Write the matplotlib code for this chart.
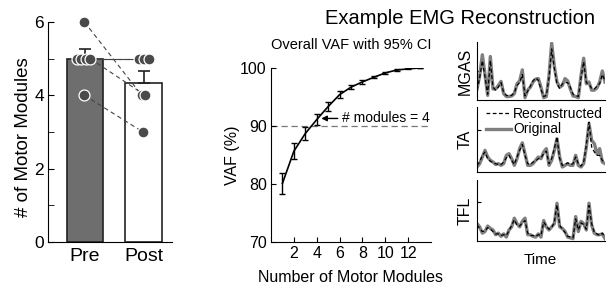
import matplotlib
matplotlib.use('Agg')
import matplotlib.pyplot as plt
import numpy as np

plt.rcParams['font.family'] = ['Liberation Sans', 'DejaVu Sans']

# ---- data
conditions = ['Pre', 'Post']
pre_modules = [6, 5, 5, 5, 5, 4]
post_modules = [4, 5, 5, 5, 4, 3]
pre_jitter = [-0.01, -0.13, -0.06, 0.02, 0.09, -0.01]
post_jitter = [-0.03, -0.07, 0.01, 0.09, 0.03, -0.01]

n_modules = np.arange(1, 14)
vaf_mean = [80.05, 85.6, 88.65, 91.05, 93.3, 95.35, 96.65, 97.55, 98.35, 99.1, 99.6, 99.8, 99.95]
vaf_ci = [1.85, 1.4, 1.15, 0.95, 0.8, 0.65, 0.35, 0.35, 0.2, 0.12, 0.1, 0.08, 0.05]
vaf_threshold = 90
chosen_n = 4

muscles = ['MGAS', 'TA', 'TFL']
mgas_orig = [0.19, 0.42, 0.78, 0.44, 0.08, 0.75, 0.19, 0.19, 0.25, 0.32, 0.11, 0.06, 0.06, 0.07, 0.11, 0.28, 0.33,
             0.52, 0.04, 0.17, 0.22, 0.31, 0.36, 0.37, 0.22, 0.04, 0.06, 0.42, 0.98, 0.58, 0.31, 0.22, 0.25, 0.37,
             0.33, 0.19, 0.07, 0.06, 0.04, 0.42, 0.72, 0.28, 0.31, 0.17, 0.17, 0.21, 0.31, 0.50, 0.31]
mgas_recon = [0.17, 0.38, 0.68, 0.40, 0.10, 0.68, 0.22, 0.17, 0.22, 0.30, 0.13, 0.08, 0.07, 0.08, 0.13, 0.25, 0.30,
              0.44, 0.07, 0.15, 0.24, 0.33, 0.38, 0.34, 0.18, 0.06, 0.08, 0.38, 0.88, 0.55, 0.28, 0.20, 0.28, 0.30,
              0.30, 0.22, 0.10, 0.08, 0.06, 0.38, 0.66, 0.30, 0.27, 0.20, 0.19, 0.24, 0.28, 0.44, 0.33]
ta_orig = [0.06, 0.10, 0.18, 0.26, 0.18, 0.14, 0.12, 0.09, 0.10, 0.08, 0.10, 0.20, 0.22, 0.16, 0.08, 0.16, 0.28,
           0.35, 0.22, 0.08, 0.08, 0.10, 0.14, 0.18, 0.16, 0.24, 0.28, 0.08, 0.14, 0.26, 0.40, 0.18, 0.06, 0.08,
           0.10, 0.08, 0.08, 0.20, 0.08, 0.06, 0.10, 0.30, 0.58, 0.38, 0.34, 0.22, 0.28, 0.12, 0.10]
ta_recon = [0.08, 0.12, 0.20, 0.24, 0.16, 0.13, 0.11, 0.10, 0.09, 0.09, 0.12, 0.17, 0.20, 0.14, 0.09, 0.18, 0.26,
            0.33, 0.20, 0.10, 0.09, 0.12, 0.13, 0.16, 0.17, 0.22, 0.25, 0.10, 0.16, 0.28, 0.42, 0.16, 0.08, 0.09,
            0.11, 0.09, 0.10, 0.18, 0.10, 0.07, 0.12, 0.32, 0.60, 0.30, 0.24, 0.20, 0.20, 0.14, 0.11]
tfl_orig = [0.22, 0.18, 0.10, 0.12, 0.19, 0.16, 0.14, 0.08, 0.10, 0.06, 0.09, 0.05, 0.14, 0.18, 0.29, 0.22, 0.18,
            0.25, 0.29, 0.08, 0.08, 0.06, 0.05, 0.09, 0.05, 0.26, 0.18, 0.14, 0.18, 0.22, 0.48, 0.18, 0.16, 0.12,
            0.05, 0.04, 0.03, 0.31, 0.12, 0.25, 0.22, 0.14, 0.48, 0.20, 0.10, 0.08, 0.08, 0.09, 0.03]
tfl_recon = [0.20, 0.16, 0.12, 0.13, 0.17, 0.15, 0.12, 0.09, 0.09, 0.07, 0.08, 0.07, 0.13, 0.20, 0.27, 0.20, 0.19,
             0.23, 0.26, 0.10, 0.07, 0.07, 0.06, 0.08, 0.07, 0.24, 0.19, 0.15, 0.17, 0.24, 0.46, 0.20, 0.15, 0.11,
             0.06, 0.05, 0.04, 0.28, 0.14, 0.23, 0.21, 0.15, 0.45, 0.22, 0.11, 0.09, 0.07, 0.10, 0.05]

W, H = 610, 284
fig = plt.figure(figsize=(W / 100, H / 100), dpi=100)


def px_axes(x0, y0, x1, y1):
    # axes from pixel box (top-left origin)
    return fig.add_axes([x0 / W, 1 - y1 / H, (x1 - x0) / W, (y1 - y0) / H])


# ---- left: bar chart of modules
ax1 = px_axes(48, 22, 172, 242)
pre = np.array(pre_modules)
post = np.array(post_modules)
means = [pre.mean(), post.mean()]
sems = [pre.std(ddof=1) / np.sqrt(len(pre)), post.std(ddof=1) / np.sqrt(len(post))]
xpos = [1, 2]
ax1.bar(xpos, means, width=0.62, color=['#6e6e6e', 'white'], edgecolor='#222222', linewidth=1.2, zorder=1)
for x, m, s in zip(xpos, means, sems):
    ax1.errorbar(x, m, yerr=[[0], [s]], color='#222222', capsize=4, elinewidth=1.2, capthick=1.2, zorder=2)
for a, b, ja, jb in zip(pre_modules, post_modules, pre_jitter, post_jitter):
    ax1.plot([1 + ja, 2 + jb], [a, b], ls=(0, (4, 3)), color='#444444', lw=0.8, zorder=3)
ax1.scatter(np.array(xpos[0]) + np.array(pre_jitter), pre_modules, s=62, color='#4a4a4a',
            edgecolor='white', linewidth=0.9, zorder=4, clip_on=False)
ax1.scatter(np.array(xpos[1]) + np.array(post_jitter), post_modules, s=62, color='#4a4a4a',
            edgecolor='white', linewidth=0.9, zorder=4, clip_on=False)
ax1.set_xlim(0.3675, 2.487)
ax1.set_ylim(0, 6)
ax1.set_yticks([0, 2, 4, 6])
ax1.set_yticks([1, 3, 5], minor=True)
ax1.set_xticks(xpos)
ax1.set_xticklabels(conditions, fontsize=14)
ax1.tick_params(axis='x', length=0, pad=4)
ax1.tick_params(axis='y', which='both', direction='in', length=4, labelsize=12.5, pad=3)
for sp in ['top', 'right']:
    ax1.spines[sp].set_visible(False)
fig.text(23 / W, 1 - 137 / H, '# of Motor Modules', rotation=90, ha='center', va='center', fontsize=13.5)

# ---- middle: VAF curve
ax2 = px_axes(271, 67.7, 431, 241.7)
ax2.axhline(vaf_threshold, color='#777777', ls=(0, (5, 3)), lw=0.9, zorder=1)
ax2.errorbar(n_modules, vaf_mean, yerr=vaf_ci, color='black', lw=1.2, capsize=2.5, elinewidth=1, capthick=1,
             zorder=2)
ax2.annotate('# modules = %d' % chosen_n, xy=(chosen_n + 0.4, vaf_mean[chosen_n - 1] + 0.2),
             xytext=(chosen_n + 2.2, vaf_mean[chosen_n - 1] + 0.2), fontsize=10, va='center', ha='left',
             arrowprops=dict(arrowstyle='-|>', color='black', lw=1, shrinkA=1, shrinkB=0,
                             mutation_scale=8))
ax2.set_xlim(0, 14)
ax2.set_ylim(70, 100)
ax2.set_xticks([2, 4, 6, 8, 10, 12])
ax2.set_yticks([70, 80, 90, 100])
ax2.tick_params(direction='in', length=3.5, labelsize=11.5, pad=3)
for sp in ['top', 'right']:
    ax2.spines[sp].set_visible(False)
fig.text(232 / W, 1 - 155 / H, 'VAF (%)', rotation=90, ha='center', va='center', fontsize=11.5)
fig.text(351 / W, 1 - 278 / H, 'Number of Motor Modules', ha='center', va='center', fontsize=11.5)
fig.text(351 / W, 1 - 45 / H, 'Overall VAF with 95% CI', ha='center', va='center', fontsize=10.5)

# ---- right: EMG traces
fig.text(460 / W, 1 - 18 / H, 'Example EMG Reconstruction', ha='center', va='center', fontsize=14.5)
boxes = [(42, 100), (107, 172), (180, 241)]
traces = [(mgas_orig, mgas_recon, 1.0), (ta_orig, ta_recon, 0.78), (tfl_orig, tfl_recon, 0.775)]
for name, (y0, y1), (orig, recon, top) in zip(muscles, boxes, traces):
    ax = px_axes(477, y0, 605, y1)
    t = np.arange(len(orig))
    lo, = ax.plot(t, orig, color='#7f7f7f', lw=2.4, label='Original')
    lr, = ax.plot(t, recon, color='black', lw=0.9, ls=(0, (3, 2)), label='Reconstructed')
    ax.set_xlim(0, len(orig) - 1)
    ax.set_ylim(0, top)
    ax.set_xticks([])
    ax.set_yticks([0.5])
    ax.set_yticklabels([])
    ax.tick_params(axis='y', direction='in', length=3)
    for sp in ['top', 'right']:
        ax.spines[sp].set_visible(False)
    fig.text(465 / W, 1 - (y0 + y1) / 2 / H, name, rotation=90, ha='center', va='center', fontsize=11.5)
    if name == 'TA':
        ax.legend([lr, lo], ['Reconstructed', 'Original'], loc='upper left', bbox_to_anchor=(0.07, 1.0),
                  frameon=False, fontsize=10, handlelength=1.8, handletextpad=0.15, labelspacing=0.1,
                  borderaxespad=0, borderpad=0)
fig.text(540 / W, 1 - 260 / H, 'Time', ha='center', va='center', fontsize=11)

fig.savefig('out.png', dpi=100)
